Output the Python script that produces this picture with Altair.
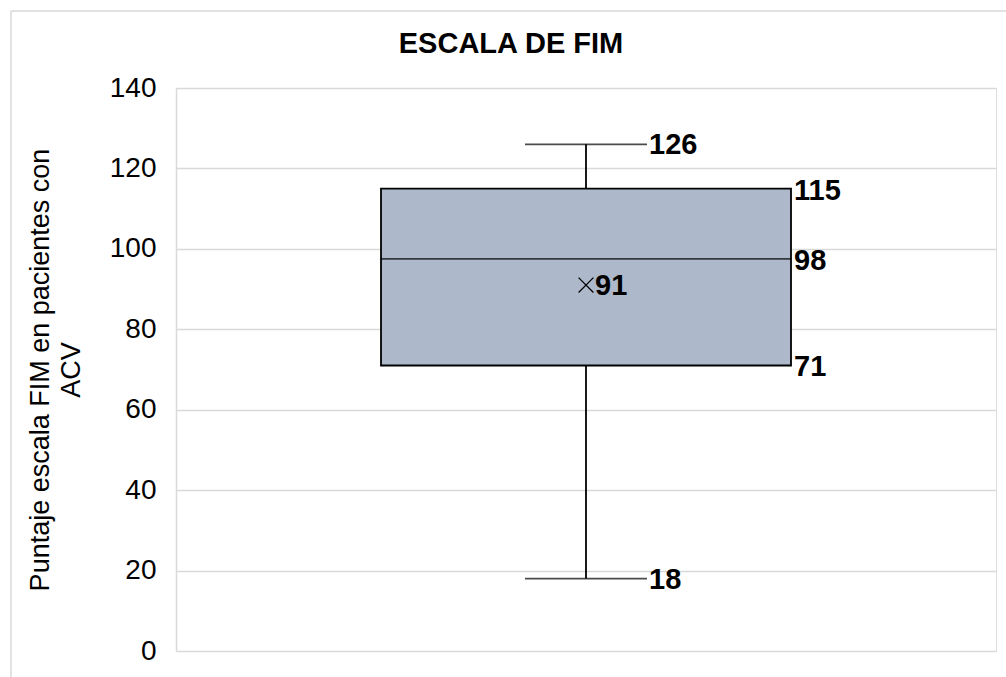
import altair as alt
import pandas as pd

# ---- data ----
categories = ["FIM"]
minimum = [18]
q1 = [71]
median = [97.5]
q3 = [115]
maximum = [126]
mean = [91]

y_ticks = [0, 20, 40, 60, 80, 100, 120, 140]
title_text = "ESCALA DE FIM"
y_title = ["Puntaje escala FIM en pacientes con", "ACV"]

df = pd.DataFrame({
    "cat": categories, "min": minimum, "q1": q1, "median": median,
    "q3": q3, "max": maximum, "mean": mean,
})

FONT = "Liberation Sans"
BOX_FILL = "#adb9ca"

xenc = alt.X("cat:N", scale=alt.Scale(paddingInner=0, paddingOuter=0.5), axis=None)
yscale = alt.Scale(domain=[0, 140], nice=False)
yaxis = alt.Axis(values=y_ticks, grid=True, gridColor="#d9d9d9", gridWidth=1.5,
                 domain=True, domainColor="#d9d9d9", domainWidth=1.5, ticks=False,
                 labelPadding=20, labelFontSize=28, labelFont=FONT, labelColor="#000000",
                 title=y_title, titleFont=FONT, titleFontSize=27, titleFontWeight="normal",
                 titleColor="#000000", titleAngle=-90, titleBaseline="top",
                 titleAlign="center", titleLineHeight=31, titleX=-149, titleY=281.5)

base = alt.Chart(df)

whisker = base.mark_rule(color="#000000", strokeWidth=1.8).encode(
    x=xenc, y=alt.Y("min:Q", scale=yscale, axis=yaxis), y2="max:Q")

box = base.mark_bar(fill=BOX_FILL, stroke="#000000", strokeWidth=1.8).encode(
    x="cat:N", y="q1:Q", y2="q3:Q")

med = base.mark_tick(color="#000000", size=410, thickness=1.8).encode(
    x="cat:N", y="median:Q")

caps = base.transform_fold(["min", "max"], as_=["stat", "val"]).mark_tick(
    color="#000000", size=122, thickness=1.8).encode(x="cat:N", y="val:Q")

mean_pt = base.mark_point(shape="M-1,-1L1,1M1,-1L-1,1", filled=False, color="#000000",
                          strokeWidth=1.3, size=220, opacity=1).encode(x="cat:N", y="mean:Q")

txt_style = dict(font=FONT, fontSize=29, fontWeight="bold", color="#000000",
                 align="left", baseline="middle")

box_labels = base.transform_fold(["q3", "median", "q1"], as_=["stat", "val"]).mark_text(
    dx=208, dy=2, **txt_style).encode(
    x="cat:N", y="val:Q", text=alt.Text("val:Q", format=".0f"))

whisk_labels = base.transform_fold(["max", "min"], as_=["stat", "val"]).mark_text(
    dx=63, dy=1, **txt_style).encode(
    x="cat:N", y="val:Q", text=alt.Text("val:Q", format=".0f"))

mean_label = base.mark_text(dx=9, dy=1, **txt_style).encode(
    x="cat:N", y="mean:Q", text=alt.Text("mean:Q", format=".0f"))

# chart title drawn as text above the plot area
title_df = pd.DataFrame({"t": [title_text]})
title_mark = alt.Chart(title_df).mark_text(
    font=FONT, fontSize=29, fontWeight="bold", color="#000000",
    align="center", baseline="alphabetic").encode(
    x=alt.value(335), y=alt.value(-35), text="t:N")

# light chart-area border (top and left edges)
border_top = base.mark_rule(color="#d9d9d9", strokeWidth=1.5).encode(
    x=alt.value(-165), x2=alt.value(830), y=alt.value(-77))
border_left = base.mark_rule(color="#d9d9d9", strokeWidth=1.5).encode(
    x=alt.value(-165), y=alt.value(-77), y2=alt.value(589))

chart = alt.layer(
    border_top, border_left, whisker, box, med, caps, mean_pt,
    box_labels, whisk_labels, mean_label, title_mark,
).properties(
    width=820, height=563,
    autosize=alt.AutoSizeParams(type="none"),
    padding={"left": 176, "top": 88, "right": 10, "bottom": 26},
).configure_view(strokeWidth=0).configure(background="#ffffff")

chart.save("out.html", embed_options={"renderer": "svg", "actions": False})
